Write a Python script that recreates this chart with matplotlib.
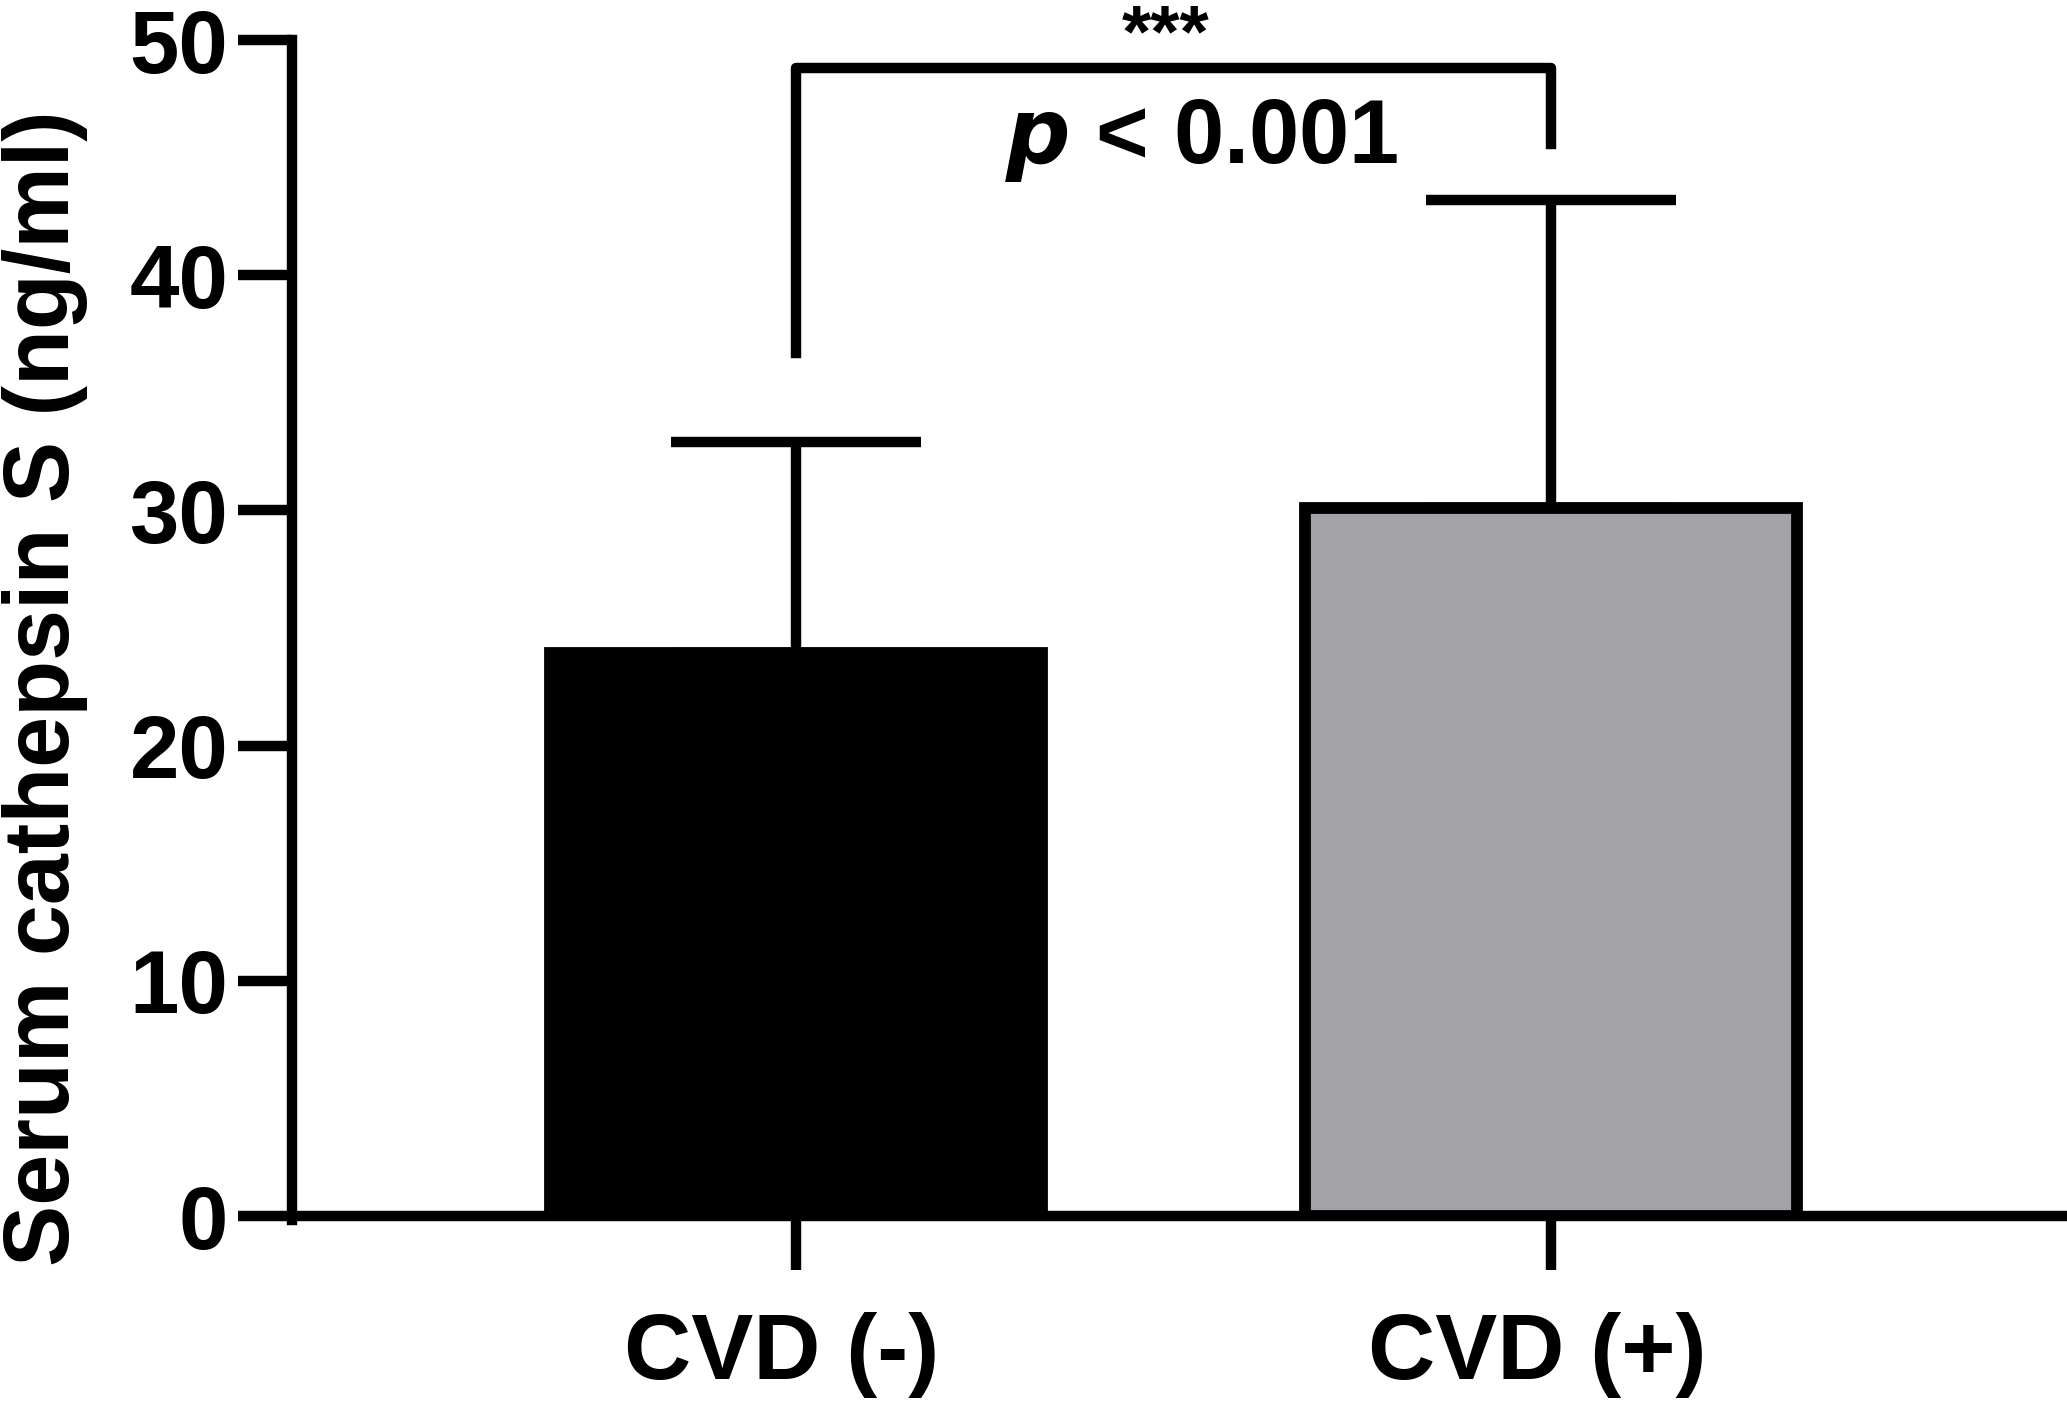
import matplotlib
matplotlib.use("Agg")
import matplotlib.pyplot as plt
from matplotlib.transforms import ScaledTranslation

categories = ["CVD (-)", "CVD (+)"]
means = [23.95, 30.1]
sd_upper = [8.95, 13.1]
bar_colors = ["#000000", "#a3a2a6"]
yticks = [0, 10, 20, 30, 40, 50]
bracket_left_bottom = 36.7
bracket_right_bottom = 45.6
bracket_top = 48.8
ylabel = "Serum cathepsin S (ng/ml)"
sig_stars = "***"

plt.rcParams['font.family'] = ['Liberation Sans', 'DejaVu Sans']
plt.rcParams['font.weight'] = 'bold'

fig = plt.figure(figsize=(20.67, 14.04), dpi=100)
ax = fig.add_axes([0.1413, 0.1339, 0.999 - 0.1413, 0.9715 - 0.1339])

x = list(range(len(categories)))
lw = 7.5
ax.bar(x, means, width=0.651, color=bar_colors, edgecolor="black", linewidth=8.5, zorder=3)
ax.errorbar(x, means, yerr=[[0, 0], sd_upper], fmt="none", ecolor="black",
            elinewidth=lw, capsize=90, capthick=lw, zorder=2)

# significance bracket
ax.plot([x[0], x[0], x[1], x[1]],
        [bracket_left_bottom, bracket_top, bracket_top, bracket_right_bottom],
        color="black", linewidth=lw, clip_on=False, solid_joinstyle="round", zorder=4)
ax.text(0.49, 49.3, sig_stars, ha="center", va="baseline", fontsize=54,
        fontweight="bold", clip_on=False)
ax.text(0.538, 44.75, r"$\bf{\it{p}}$ < 0.001", ha="center", va="baseline",
        fontsize=65, fontweight="bold")

ax.set_xlim(-0.667, 1.680)
ax.set_ylim(0, 50)
ax.set_yticks(yticks)
ax.set_yticklabels([str(t) for t in yticks])
ax.set_xticks(x)
ax.set_xticklabels(categories)

for s in ["top", "right"]:
    ax.spines[s].set_visible(False)
for s in ["left", "bottom"]:
    ax.spines[s].set_linewidth(lw)
ax.spines["left"].set_bounds(-0.15, 50)

ax.tick_params(axis="both", direction="out", length=39, width=lw)
ax.tick_params(axis="y", pad=7, labelsize=64)
ax.tick_params(axis="x", pad=30, labelsize=67)
shift = ScaledTranslation(-0.14, 0, fig.dpi_scale_trans)
for lab in ax.get_xticklabels():
    lab.set_fontweight("bold")
    lab.set_transform(lab.get_transform() + shift)
for lab in ax.get_yticklabels():
    lab.set_fontweight("bold")

fig.text(0.022, 0.51, ylabel, rotation=90, ha="center", va="center",
         fontsize=66, fontweight="bold")

fig.savefig("out.png", dpi=100)
